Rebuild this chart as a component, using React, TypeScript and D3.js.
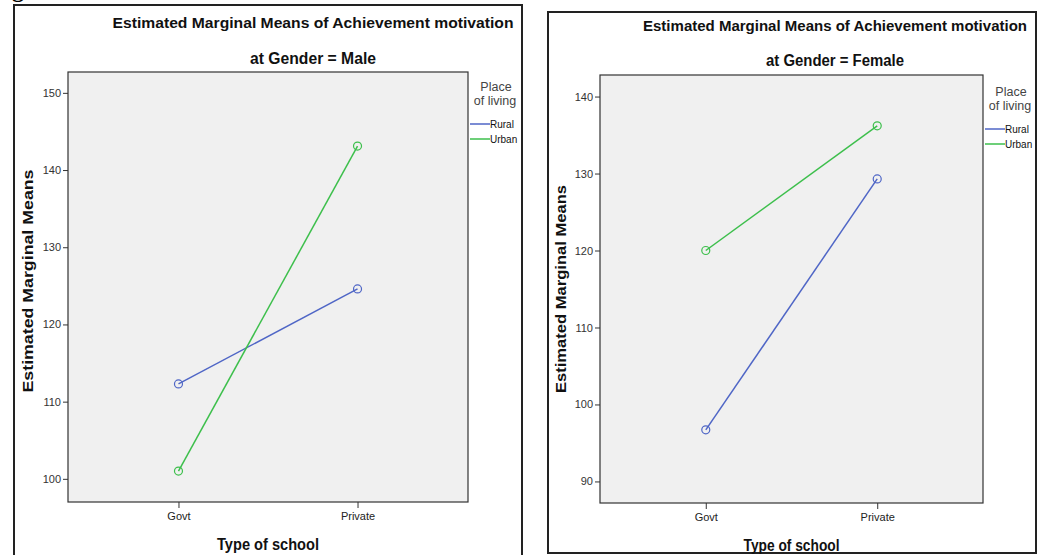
import React, { useEffect, useRef } from 'react';
import * as d3 from 'd3';

const schoolTypes = ['Govt', 'Private'];
const livingPlaces = ['Rural', 'Urban'];
const maleRural = [112.3, 124.6];
const maleUrban = [101.0, 143.1];
const femaleRural = [96.7, 129.3];
const femaleUrban = [120.0, 136.2];
const maleTicks = [100, 110, 120, 130, 140, 150];
const femaleTicks = [90, 100, 110, 120, 130, 140];
const colors = ['#4f66c6', '#3dbf4c'];

const panels = [
  {
    gender: 'Male',
    series: [maleRural, maleUrban],
    ticks: maleTicks,
    domain: [97.0, 152.7],
    frame: { x: 14, y: 5, w: 508, h: 560 },
    plot: { left: 68, top: 72, right: 468, bottom: 502 },
    title: { cx: 313, y: 28, w: 401, subY: 64, subW: 126 },
    yTitle: { x: 33, cy: 281, len: 223 },
    xTitle: { cy: 550, len: 102, tickY: 521 },
    legend: { x: 470, y: 87 },
  },
  {
    gender: 'Female',
    series: [femaleRural, femaleUrban],
    ticks: femaleTicks,
    domain: [87.2, 142.8],
    frame: { x: 548, y: 12, w: 488, h: 541 },
    plot: { left: 600, top: 75, right: 983, bottom: 503 },
    title: { cx: 835, y: 31, w: 384, subY: 66, subW: 138 },
    yTitle: { x: 566, cy: 289, len: 208 },
    xTitle: { cy: 551, len: 96, tickY: 524 },
    legend: { x: 985, y: 92 },
  },
];

function drawPanel(svg: any, p: any) {
  const g = svg.append('g');
  g.append('rect')
    .attr('x', p.frame.x).attr('y', p.frame.y)
    .attr('width', p.frame.w).attr('height', p.frame.h)
    .attr('fill', '#fff').attr('stroke', '#222').attr('stroke-width', 2);

  const x = d3.scalePoint().domain(schoolTypes).range([p.plot.left, p.plot.right]).padding(0.617);
  const y = d3.scaleLinear().domain(p.domain).range([p.plot.bottom, p.plot.top]);

  g.append('rect')
    .attr('x', p.plot.left).attr('y', p.plot.top)
    .attr('width', p.plot.right - p.plot.left).attr('height', p.plot.bottom - p.plot.top)
    .attr('fill', '#f0f0f0').attr('stroke', '#333').attr('stroke-width', 1.2);

  const yAxis = g.append('g')
    .attr('transform', `translate(${p.plot.left},0)`)
    .call(d3.axisLeft(y).tickValues(p.ticks).tickSize(5).tickSizeOuter(0).tickPadding(2));
  yAxis.select('.domain').remove();
  yAxis.selectAll('line').attr('stroke', '#333');
  yAxis.selectAll('text').attr('fill', '#333').attr('font-size', 11).attr('font-family', 'Liberation Sans, Arial, sans-serif');

  const xAxis = g.append('g')
    .attr('transform', `translate(0,${p.plot.bottom})`)
    .call(d3.axisBottom(x).tickSize(6).tickSizeOuter(0).tickPadding(4));
  xAxis.select('.domain').remove();
  xAxis.selectAll('line').attr('stroke', '#333');
  xAxis.selectAll('text').attr('fill', '#222').attr('font-size', 11).attr('font-family', 'Liberation Sans, Arial, sans-serif');

  const line = d3.line<number>().x((_, i) => x(schoolTypes[i]) as number).y((d) => y(d));
  p.series.forEach((vals: number[], si: number) => {
    g.append('path').attr('d', line(vals)).attr('fill', 'none')
      .attr('stroke', colors[si]).attr('stroke-width', 1.5);
    g.selectAll(null).data(vals).enter().append('circle')
      .attr('cx', (_: number, i: number) => x(schoolTypes[i]) as number)
      .attr('cy', (d: number) => y(d))
      .attr('r', 4).attr('fill', 'none')
      .attr('stroke', colors[si]).attr('stroke-width', 1.2);
  });

  const font = 'Liberation Sans, Arial, sans-serif';
  g.append('text').text('Estimated Marginal Means of Achievement motivation')
    .attr('x', p.title.cx - p.title.w / 2).attr('y', p.title.y)
    .attr('textLength', p.title.w).attr('lengthAdjust', 'spacingAndGlyphs')
    .attr('font-family', font).attr('font-weight', 'bold').attr('font-size', 15).attr('fill', '#111');
  g.append('text').text(`at Gender = ${p.gender}`)
    .attr('x', p.title.cx - p.title.subW / 2).attr('y', p.title.subY)
    .attr('textLength', p.title.subW).attr('lengthAdjust', 'spacingAndGlyphs')
    .attr('font-family', font).attr('font-weight', 'bold').attr('font-size', 16).attr('fill', '#111');
  g.append('text').text('Estimated Marginal Means')
    .attr('transform', `translate(${p.yTitle.x},${p.yTitle.cy + p.yTitle.len / 2}) rotate(-90)`)
    .attr('textLength', p.yTitle.len).attr('lengthAdjust', 'spacingAndGlyphs')
    .attr('font-family', font).attr('font-weight', 'bold').attr('font-size', 15).attr('fill', '#111');
  const xc = (p.plot.left + p.plot.right) / 2;
  g.append('text').text('Type of school')
    .attr('x', xc - p.xTitle.len / 2).attr('y', p.xTitle.cy)
    .attr('textLength', p.xTitle.len).attr('lengthAdjust', 'spacingAndGlyphs')
    .attr('font-family', font).attr('font-weight', 'bold').attr('font-size', 16).attr('fill', '#111');

  // legend
  const lg = g.append('g').attr('font-family', font).attr('fill', '#444');
  lg.append('text').text('Place').attr('x', p.legend.x + 26).attr('y', p.legend.y + 4)
    .attr('text-anchor', 'middle').attr('font-size', 12.5);
  lg.append('text').text('of living').attr('x', p.legend.x + 25).attr('y', p.legend.y + 18)
    .attr('text-anchor', 'middle').attr('font-size', 12.5);
  livingPlaces.forEach((name, i) => {
    const ly = p.legend.y + 37 + i * 15;
    lg.append('line').attr('x1', p.legend.x).attr('x2', p.legend.x + 20)
      .attr('y1', ly).attr('y2', ly).attr('stroke', colors[i]).attr('stroke-width', 1.5);
    lg.append('text').text(name).attr('x', p.legend.x + 20).attr('y', ly + 3.5)
      .attr('font-size', 10).attr('fill', '#111');
  });
}

export default function App() {
  const ref = useRef<SVGSVGElement>(null);
  useEffect(() => {
    const svg = d3.select(ref.current);
    svg.selectAll('*').remove();
    svg.append('rect').attr('width', 1049).attr('height', 555).attr('fill', '#fff');
    svg.append('text').text('g').attr('x', 12).attr('y', -3)
      .attr('font-family', 'Liberation Serif, serif').attr('font-weight', 'bold').attr('font-size', 24);
    panels.forEach((p) => drawPanel(svg, p));
  }, []);
  return (
    <svg ref={ref} width={1049} height={555} style={{ position: 'absolute', left: 0, top: 0 }} />
  );
}
